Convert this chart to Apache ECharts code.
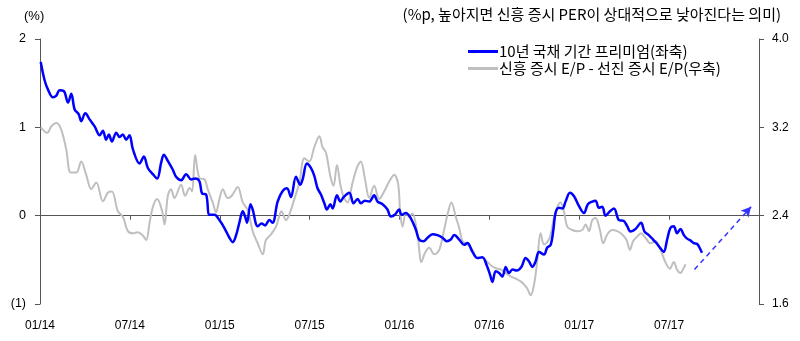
<!DOCTYPE html>
<html>
<head>
<meta charset="utf-8">
<script src="https://cdn.jsdelivr.net/npm/echarts@6/dist/echarts.min.js"></script>
<style>
  html, body { margin: 0; padding: 0; background: #fff; }
  #chart { width: 800px; height: 341px; }
</style>
</head>
<body>
<div id="chart"></div>
<script>
// 10-year government bond term premium (left axis, %), dates as decimal years
const premiumDates = [
  2014.004, 2014.026, 2014.044, 2014.072, 2014.091, 2014.109, 2014.133, 2014.156, 2014.174, 2014.193,
  2014.215, 2014.229, 2014.252, 2014.276, 2014.304, 2014.332, 2014.350, 2014.368, 2014.383, 2014.400,
  2014.424, 2014.443, 2014.461, 2014.479, 2014.498, 2014.517, 2014.554, 2014.578, 2014.600, 2014.628,
  2014.652, 2014.674, 2014.689, 2014.711, 2014.739, 2014.757, 2014.785, 2014.813, 2014.841, 2014.863,
  2014.887, 2014.902, 2014.924, 2014.943, 2014.971, 2014.998, 2015.026, 2015.054, 2015.072, 2015.091,
  2015.109, 2015.128, 2015.141, 2015.152, 2015.171, 2015.183, 2015.211, 2015.233, 2015.252, 2015.276,
  2015.294, 2015.322, 2015.350, 2015.374, 2015.396, 2015.424, 2015.448, 2015.461, 2015.485, 2015.507,
  2015.526, 2015.544, 2015.563, 2015.582, 2015.596, 2015.615, 2015.628, 2015.652, 2015.671, 2015.689,
  2015.721, 2015.744, 2015.767, 2015.785, 2015.807, 2015.832, 2015.859, 2015.878, 2015.906, 2015.933,
  2015.952, 2015.974, 2015.998, 2016.011, 2016.035, 2016.063, 2016.091, 2016.109, 2016.133, 2016.156,
  2016.183, 2016.211, 2016.239, 2016.263, 2016.285, 2016.304, 2016.332, 2016.359, 2016.378, 2016.406,
  2016.433, 2016.461, 2016.485, 2016.504, 2016.517, 2016.535, 2016.554, 2016.572, 2016.591, 2016.609,
  2016.628, 2016.652, 2016.678, 2016.702, 2016.721, 2016.739, 2016.757, 2016.776, 2016.804, 2016.822,
  2016.841, 2016.856, 2016.868, 2016.887, 2016.906, 2016.924, 2016.948, 2016.971, 2016.998, 2017.026,
  2017.048, 2017.072, 2017.091, 2017.109, 2017.128, 2017.146, 2017.171, 2017.193, 2017.221, 2017.248,
  2017.267, 2017.285, 2017.313, 2017.344, 2017.363, 2017.387, 2017.411, 2017.429, 2017.452, 2017.470,
  2017.489, 2017.507, 2017.526, 2017.544, 2017.563, 2017.582, 2017.600, 2017.618, 2017.637, 2017.656,
  2017.671, 2017.683
];
const premiumValues = [
  1.74, 1.53, 1.43, 1.34, 1.36, 1.42, 1.41, 1.28, 1.38, 1.20,
  1.15, 1.07, 1.16, 1.09, 1.01, 0.91, 0.96, 0.86, 0.92, 0.84,
  0.94, 0.89, 0.92, 0.86, 0.91, 0.75, 0.59, 0.67, 0.54, 0.47,
  0.42, 0.60, 0.69, 0.62, 0.52, 0.44, 0.40, 0.47, 0.41, 0.42,
  0.39, 0.25, 0.24, 0.01, 0.01, -0.05, -0.14, -0.25, -0.30, -0.22,
  -0.08, 0.05, -0.01, -0.08, 0.13, 0.07, -0.12, -0.09, -0.11, -0.05,
  -0.08, 0.16, 0.28, 0.31, 0.21, 0.44, 0.35, 0.41, 0.59, 0.54,
  0.45, 0.31, 0.24, 0.14, 0.07, 0.13, 0.08, 0.23, 0.16, 0.21,
  0.26, 0.14, 0.19, 0.14, 0.17, 0.16, 0.23, 0.16, 0.13, 0.07,
  -0.01, 0.01, 0.07, 0.01, 0.03, -0.03, -0.16, -0.27, -0.29, -0.25,
  -0.21, -0.22, -0.25, -0.29, -0.27, -0.22, -0.27, -0.33, -0.31, -0.41,
  -0.48, -0.47, -0.56, -0.67, -0.75, -0.63, -0.65, -0.69, -0.58, -0.65,
  -0.61, -0.62, -0.58, -0.48, -0.52, -0.58, -0.52, -0.41, -0.44, -0.36,
  -0.33, -0.16, 0.03, 0.09, 0.08, 0.16, 0.26, 0.22, 0.11, 0.03,
  0.13, 0.16, 0.17, 0.09, 0.10, 0.00, 0.05, 0.08, -0.05, -0.06,
  -0.12, -0.18, -0.15, -0.08, -0.18, -0.22, -0.27, -0.31, -0.37, -0.41,
  -0.27, -0.14, -0.12, -0.20, -0.15, -0.22, -0.26, -0.28, -0.31, -0.32,
  -0.37, -0.42
];

// Emerging-market E/P minus developed-market E/P (right axis, %p)
const epGapDates = [
  2014.004, 2014.041, 2014.063, 2014.091, 2014.118, 2014.146, 2014.171, 2014.202, 2014.229, 2014.257,
  2014.285, 2014.313, 2014.350, 2014.378, 2014.400, 2014.433, 2014.461, 2014.489, 2014.517, 2014.544,
  2014.572, 2014.591, 2014.609, 2014.628, 2014.652, 2014.678, 2014.693, 2014.711, 2014.729, 2014.748,
  2014.785, 2014.807, 2014.832, 2014.846, 2014.863, 2014.887, 2014.915, 2014.933, 2014.961, 2014.979,
  2014.998, 2015.017, 2015.044, 2015.067, 2015.100, 2015.128, 2015.156, 2015.183, 2015.211, 2015.239,
  2015.257, 2015.285, 2015.313, 2015.344, 2015.368, 2015.387, 2015.415, 2015.443, 2015.471, 2015.498,
  2015.526, 2015.554, 2015.572, 2015.591, 2015.615, 2015.633, 2015.652, 2015.671, 2015.689, 2015.711,
  2015.739, 2015.767, 2015.785, 2015.807, 2015.832, 2015.859, 2015.887, 2015.915, 2015.943, 2015.971,
  2015.993, 2016.004, 2016.017, 2016.035, 2016.054, 2016.072, 2016.100, 2016.122, 2016.141, 2016.165,
  2016.193, 2016.221, 2016.248, 2016.267, 2016.289, 2016.313, 2016.332, 2016.350, 2016.378, 2016.406,
  2016.433, 2016.461, 2016.489, 2016.517, 2016.544, 2016.567, 2016.591, 2016.618, 2016.646, 2016.678,
  2016.696, 2016.711, 2016.729, 2016.748, 2016.767, 2016.785, 2016.804, 2016.826, 2016.841, 2016.859,
  2016.878, 2016.896, 2016.915, 2016.933, 2016.961, 2016.989, 2017.017, 2017.035, 2017.054, 2017.072,
  2017.091, 2017.115, 2017.133, 2017.156, 2017.183, 2017.211, 2017.239, 2017.263, 2017.282, 2017.300,
  2017.322, 2017.344, 2017.368, 2017.396, 2017.424, 2017.452, 2017.479, 2017.504, 2017.526, 2017.544,
  2017.563, 2017.582, 2017.591
];
const epGapValues = [
  3.20, 3.15, 3.21, 3.24, 3.18, 3.00, 2.79, 2.79, 2.89, 2.77,
  2.64, 2.70, 2.53, 2.61, 2.62, 2.44, 2.39, 2.26, 2.24, 2.25,
  2.22, 2.18, 2.33, 2.48, 2.55, 2.45, 2.32, 2.58, 2.64, 2.56,
  2.68, 2.58, 2.65, 2.62, 2.95, 2.74, 2.73, 2.64, 2.52, 2.43,
  2.55, 2.64, 2.56, 2.58, 2.66, 2.52, 2.45, 2.26, 2.15, 2.05,
  2.18, 2.23, 2.30, 2.44, 2.36, 2.41, 2.55, 2.70, 2.92, 2.89,
  3.02, 3.12, 3.02, 2.97, 2.76, 2.67, 2.86, 2.68, 2.57, 2.52,
  2.70, 2.85, 2.89, 2.74, 2.56, 2.67, 2.55, 2.62, 2.71, 2.77,
  2.68, 2.42, 2.30, 2.42, 2.39, 2.42, 2.23, 1.98, 2.06, 2.11,
  2.05, 2.09, 2.27, 2.41, 2.52, 2.39, 2.29, 2.17, 2.14, 2.09,
  2.02, 2.02, 1.98, 1.94, 1.92, 1.91, 1.88, 1.85, 1.83, 1.80,
  1.77, 1.74, 1.68, 1.77, 2.00, 2.24, 2.14, 2.17, 2.23, 2.38,
  2.48, 2.52, 2.44, 2.30, 2.27, 2.26, 2.27, 2.32, 2.26, 2.36,
  2.38, 2.27, 2.15, 2.23, 2.27, 2.26, 2.23, 2.18, 2.09, 2.17,
  2.21, 2.24, 2.20, 2.15, 2.17, 2.09, 1.98, 1.92, 1.98, 1.91,
  1.88, 1.93, 1.96
];

// Expected direction of the term premium: dashed arrow (left-axis units)
const outlookFrom = [2017.641, -0.61];
const outlookTo = [2017.956, 0.10];

const leftTicks = { min: -1, max: 2, interval: 1 };
const rightTicks = { min: 1.6, max: 4.0, interval: 0.8 };
const xRange = { min: 2014, max: 2018, interval: 0.5 };

const seriesNames = ['10년 국채 기간 프리미엄(좌축)', '신흥 증시 E/P - 선진 증시 E/P(우축)'];
const leftUnit = '(%)';
const rightNote = '(%p, 높아지면 신흥 증시 PER이 상대적으로 낮아진다는 의미)';

const pair = (xs, ys) => xs.map((x, i) => [x, ys[i]]);
const FONT = '"Liberation Sans", Arial, "Noto Sans CJK KR", sans-serif';
const KFONT = '"Noto Sans CJK KR", "Liberation Sans", sans-serif';
const AXIS_COLOR = '#555';
const BLUE = '#0000ff';
const GRAY = '#bfbfbf';

const chart = echarts.init(document.getElementById('chart'), null, { renderer: 'canvas' });

chart.setOption({
  animation: false,
  backgroundColor: '#fff',
  textStyle: { fontFamily: FONT },
  title: [
    { text: leftUnit, left: 19, top: 5,
      textStyle: { fontSize: 13, fontWeight: 'normal', color: '#000', fontFamily: FONT } },
    { text: rightNote, right: 14, top: 2,
      textStyle: { fontSize: 15, fontWeight: 'normal', color: '#000', fontFamily: KFONT } }
  ],
  legend: {
    orient: 'vertical',
    left: 463,
    top: 38,
    itemWidth: 30,
    itemHeight: 3,
    itemGap: 0,
    icon: 'rect',
    textStyle: { fontSize: 15, lineHeight: 17, color: '#000', fontFamily: KFONT, padding: [0, 0, 0, -4] },
    data: [
      { name: seriesNames[0], itemStyle: { color: BLUE } },
      { name: seriesNames[1], itemStyle: { color: GRAY } }
    ]
  },
  grid: { left: 40, right: 41, top: 39, bottom: 37 },
  xAxis: [
    {
      type: 'value', position: 'bottom',
      min: xRange.min, max: xRange.max, interval: xRange.interval,
      axisLine: { show: true, onZero: true, onZeroAxisIndex: 0, lineStyle: { color: AXIS_COLOR, width: 1 } },
      axisTick: { show: true, length: 4, lineStyle: { color: AXIS_COLOR } },
      axisLabel: { show: false },
      splitLine: { show: false }
    },
    {
      type: 'value', position: 'bottom',
      min: xRange.min, max: xRange.max, interval: xRange.interval,
      axisLine: { show: false, onZero: false },
      axisTick: { show: false },
      splitLine: { show: false },
      axisLabel: {
        show: true, margin: 16, fontSize: 12, color: '#000', fontFamily: FONT,
        formatter: v => {
          if (v >= 2018) return '';
          const y = Math.floor(v + 1e-6);
          const mm = (v - y) > 0.25 ? '07' : '01';
          return mm + '/' + String(y).slice(2);
        }
      }
    }
  ],
  yAxis: [
    {
      type: 'value', position: 'left',
      min: leftTicks.min, max: leftTicks.max, interval: leftTicks.interval,
      axisLine: { show: true, lineStyle: { color: AXIS_COLOR } },
      axisTick: { show: true, length: 5, lineStyle: { color: AXIS_COLOR } },
      splitLine: { show: false },
      axisLabel: {
        margin: 14, fontSize: 12.5, color: '#000', fontFamily: FONT,
        formatter: v => v < 0 ? '(' + (-v) + ')' : String(v)
      }
    },
    {
      type: 'value', position: 'right',
      min: rightTicks.min, max: rightTicks.max, interval: rightTicks.interval,
      axisLine: { show: true, lineStyle: { color: AXIS_COLOR } },
      axisTick: { show: true, length: 5, lineStyle: { color: AXIS_COLOR } },
      splitLine: { show: false },
      axisLabel: {
        margin: 13, fontSize: 12, color: '#000', fontFamily: FONT,
        formatter: v => v.toFixed(1)
      }
    }
  ],
  series: [
    {
      name: seriesNames[1],
      type: 'line',
      xAxisIndex: 0, yAxisIndex: 1,
      data: pair(epGapDates, epGapValues),
      showSymbol: false, symbol: 'none',
      smooth: 0.35,
      lineStyle: { color: GRAY, width: 2 },
      itemStyle: { color: GRAY },
      z: 2
    },
    {
      name: seriesNames[0],
      type: 'line',
      xAxisIndex: 0, yAxisIndex: 0,
      data: pair(premiumDates, premiumValues),
      showSymbol: false, symbol: 'none',
      smooth: 0.35,
      lineStyle: { color: BLUE, width: 2.5 },
      itemStyle: { color: BLUE },
      z: 3,
      markLine: {
        silent: true,
        symbol: ['none', 'arrow'],
        symbolSize: [8, 10],
        label: { show: false },
        lineStyle: { color: '#3333ff', width: 1.5, type: [5, 4] },
        data: [[{ coord: outlookFrom }, { coord: outlookTo }]]
      }
    }
  ]
});
</script>
</body>
</html>
